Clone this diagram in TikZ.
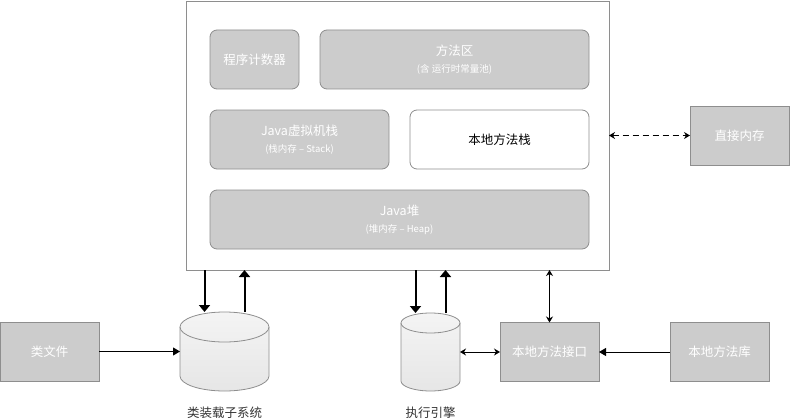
\documentclass[tikz,border=0pt]{standalone}
\usepackage{fontspec}
\setmainfont{Noto Sans CJK SC}
\usetikzlibrary{shapes, arrows.meta, positioning}

\definecolor{abu}{HTML}{CCCCCC}
\definecolor{garis}{HTML}{8E8E8E}
\definecolor{isitabung}{HTML}{E6E6E6}
\definecolor{atastabung}{HTML}{F4F4F4}
\definecolor{teks}{HTML}{333333}
\newcommand{\ket}[1]{{\fontsize{9.5}{11}\selectfont #1}}

\begin{document}
\begin{tikzpicture}[
    x=1pt, y=-1pt,
    node distance=21pt and 21pt,
    bingkai/.style={rectangle, draw=garis, line width=0.8pt, fill=white, outer sep=0pt},
    area/.style={rectangle, rounded corners=7pt, draw=garis, line width=0.8pt, fill=abu, minimum height=59pt, align=center, text=white, font=\fontsize{12.5}{13}\selectfont, inner sep=0pt, outer sep=0pt},
    kotak/.style={rectangle, draw=garis, line width=0.8pt, fill=abu, minimum width=99pt, minimum height=59pt, align=center, text=white, font=\fontsize{12.5}{14}\selectfont, outer sep=0pt},
    wadah/.style={rectangle, inner sep=0pt, outer sep=0pt},
    tabung/.style={draw=garis, line width=0.8pt, top color=atastabung, bottom color=isitabung},
    judul/.style={font=\fontsize{12.5}{14}\selectfont, text=teks, inner sep=0pt},
    tebal/.style={draw, line width=2pt, -{Triangle[width=11pt,length=7pt]}},
    line/.style={draw, line width=1pt, -{Triangle[width=8pt,length=7pt]}},
    dua/.style={draw, line width=1pt, {Stealth[width=7pt,length=6pt]}-{Stealth[width=7pt,length=6pt]}}
]
\useasboundingbox (0,0) rectangle (790,420);

% JVM frame
\node[bingkai, minimum width=423pt, minimum height=269pt, anchor=north west] (jvm) at (186,1) {};

% Runtime data areas
\node[area, minimum width=89pt, below right=29pt and 24pt of jvm.north west] (pc) {程序计数器};
\node[area, minimum width=269pt, right=of pc] (fa) {方法区\\[4pt]\ket{(含 运行时常量池)}};
\node[area, minimum width=179pt, below=of pc.south west, anchor=north west] (jstack) {Java虚拟机栈\\[4pt]\ket{(栈内存 – Stack)}};
\node[area, minimum width=179pt, fill=white, text=black, right=of jstack] (nstack) {本地方法栈};
\node[area, minimum width=379pt, below=of jstack.south west, anchor=north west] (heap) {Java堆\\[4pt]\ket{(堆内存 – Heap)}};

% Outside
\node[kotak, right=81pt of jvm] (direct) {直接内存};
\node[wadah, minimum width=89pt, minimum height=79pt] (loader) at (224.5,351.5) {};
\node[judul, below=16pt of loader] (loadertxt) {类装载子系统};
\node[kotak, left=81pt of loader] (cls) {类文件};
\node[wadah, minimum width=59pt, minimum height=78pt] (engine) at (430.5,352) {};
\node[judul, below=16pt of engine] (enginetxt) {执行引擎};
\node[kotak, right=40pt of engine] (jni) {本地方法接口};
\node[kotak, right=71pt of jni] (nlib) {本地方法库};

% Cylinders
\foreach \n/\rx/\ry in {loader/44.5/15, engine/29.5/10} {
    \path[tabung] ([yshift=-\ry pt]\n.north west) -- ([yshift=\ry pt]\n.south west)
        arc[start angle=180, end angle=360, x radius=\rx pt, y radius=\ry pt]
        -- ([yshift=-\ry pt]\n.north east)
        arc[start angle=0, end angle=180, x radius=\rx pt, y radius=\ry pt] -- cycle;
    \draw[draw=garis, line width=0.8pt] ([yshift=-\ry pt]\n.north west)
        arc[start angle=180, end angle=360, x radius=\rx pt, y radius=\ry pt];
}

% Draw lines
\draw[tebal] ([xshift=-20pt]jvm.south -| loader.north) -- ([xshift=-20pt]loader.north);
\draw[tebal] ([xshift=20pt]loader.north) -- ([xshift=20pt]jvm.south -| loader.north);
\draw[tebal] ([xshift=-15pt]jvm.south -| engine.north) -- ([xshift=-15pt]engine.north);
\draw[tebal] ([xshift=15pt]engine.north) -- ([xshift=15pt]jvm.south -| engine.north);
\draw[line] (cls) -- (loader);
\draw[line] (nlib) -- (jni);
\draw[dua] (engine) -- (jni);
\draw[dua] (jvm.south -| jni.north) -- (jni.north);
\draw[dua, dashed, dash pattern=on 6pt off 4pt] (jvm.east) -- (direct.west);
\end{tikzpicture}
\end{document}
